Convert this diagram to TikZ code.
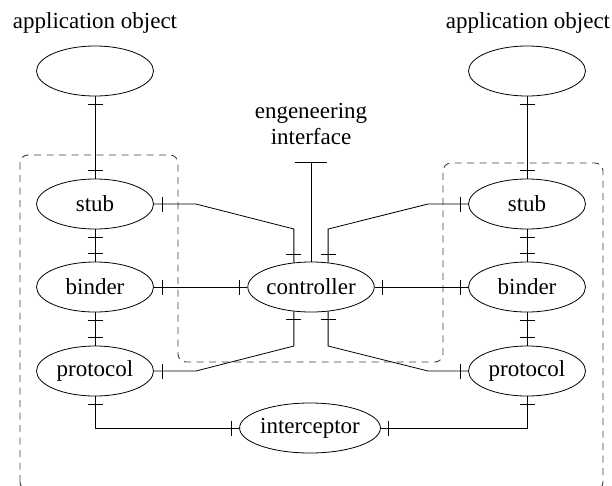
\documentclass[tikz,border=0pt]{standalone}
\usepackage{fontspec}
\setmainfont{Liberation Serif}
\usetikzlibrary{shapes.geometric,decorations.markings}

\tikzset{
  obj/.style={ellipse, draw, line width=0.8pt, minimum width=117pt, minimum height=50pt,
              inner sep=0pt, font=\fontsize{23}{26}\selectfont},
  lbl/.style={inner sep=0pt, font=\fontsize{23}{26}\selectfont},
  link/.style={line width=0.8pt, draw, postaction={decorate},
    decoration={markings,
      mark=at position 8pt with {\draw[line width=0.8pt] (0,-7.5pt) -- (0,7.5pt);},
      mark=at position -8pt with {\draw[line width=0.8pt] (0,-7.5pt) -- (0,7.5pt);}}},
  plainlink/.style={line width=0.8pt, draw},
  region/.style={draw=black!75, line width=0.9pt, dash pattern=on 7pt off 5.5pt, rounded corners=8pt},
}

\begin{document}
\begin{tikzpicture}[x=1pt, y=-1pt]
  \useasboundingbox (0,0) rectangle (612,485);

  % dashed capsule boundary
  \path[region] (20,490) -- (20,155) -- (178,155) -- (178,362) -- (443,362)
                -- (443,163) -- (603,163) -- (603,490) -- cycle;

  % application objects
  \node[lbl, anchor=base] (appLtxt) at (95,28) {application object};
  \node[lbl, anchor=base] (appRtxt) at (528,28) {application object};
  \node[obj] (appL) at (95,71) {};
  \node[obj] (appR) at (527,71) {};

  % left column
  \node[obj] (stubL)   at (95,204) {stub};
  \node[obj] (binderL) at (95,287) {binder};
  \node[obj] (protL)   at (95,371) {protocol};

  % right column
  \node[obj] (stubR)   at (527,204) {stub};
  \node[obj] (binderR) at (527,287) {binder};
  \node[obj] (protR)   at (527,371) {protocol};

  % centre
  \node[obj] (ctrl)  at (311,287) {controller};
  \node[obj] (inter) at (310,428) {interceptor};

  % engineering interface
  \node[lbl, align=center, anchor=south, text depth=0pt] (eng) at (311,145)
       {engeneering\\interface};
  \coordinate (ibar) at (311,162);
  \draw[plainlink] (ctrl.north) -- (ibar);
  \draw[plainlink] ([xshift=-16pt]ibar) -- ([xshift=16pt]ibar);

  % vertical bindings
  \draw[link] (appL.south) -- (stubL.north);
  \draw[link] (stubL.south) -- (binderL.north);
  \draw[link] (binderL.south) -- (protL.north);
  \draw[link] (appR.south) -- (stubR.north);
  \draw[link] (stubR.south) -- (binderR.north);
  \draw[link] (binderR.south) -- (protR.north);

  % controller links
  \draw[link] (stubL.east) -- ++(42,0) -- (ctrl.125 |- 0,229) -- (ctrl.125);
  \draw[link] (stubR.west) -- ++(-40,0) -- (ctrl.55 |- 0,229) -- (ctrl.55);
  \draw[link] (binderL.east) -- (ctrl.west);
  \draw[link] (ctrl.east) -- (binderR.west);
  \draw[link] (protL.east) -- ++(42,0) -- (ctrl.235 |- 0,346) -- (ctrl.235);
  \draw[link] (protR.west) -- ++(-40,0) -- (ctrl.305 |- 0,346) -- (ctrl.305);

  % interceptor links
  \draw[link] (protL.south) |- (inter.west);
  \draw[link] (inter.east) -| (protR.south);
\end{tikzpicture}
\end{document}
